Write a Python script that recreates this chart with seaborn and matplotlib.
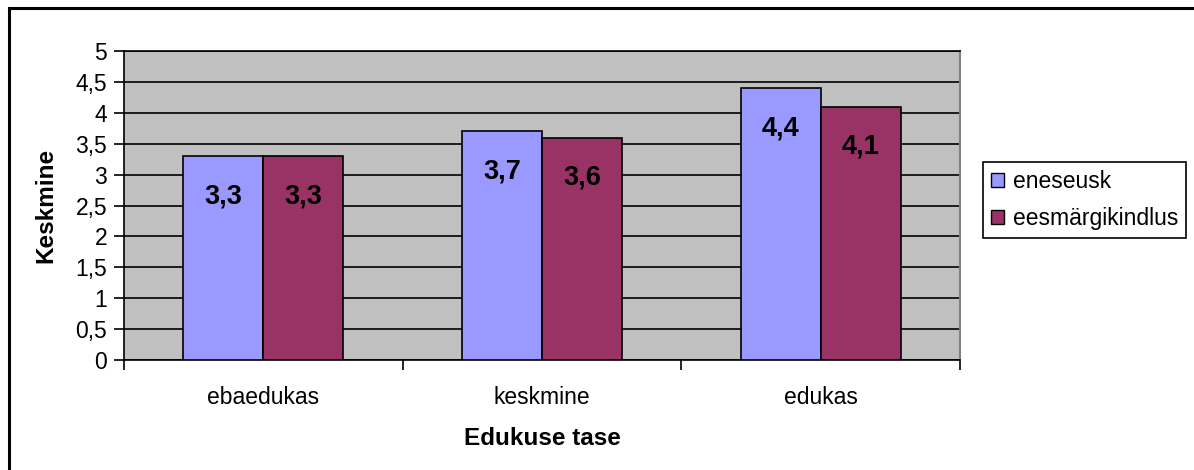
import matplotlib
matplotlib.use("Agg")
import matplotlib.pyplot as plt
from matplotlib.patches import Rectangle
import seaborn as sns
import pandas as pd

# Data
categories = ["ebaedukas", "keskmine", "edukas"]
series_names = ["eneseusk", "eesmärgikindlus"]
eneseusk = [3.3, 3.7, 4.4]
eesmargikindlus = [3.3, 3.6, 4.1]
y_ticks = [0, 0.5, 1, 1.5, 2, 2.5, 3, 3.5, 4, 4.5, 5]

df = pd.DataFrame({
    "tase": categories * 2,
    "seeria": [series_names[0]] * 3 + [series_names[1]] * 3,
    "keskmine": eneseusk + eesmargikindlus,
})

sns.set_theme(style="white")
plt.rcParams["font.family"] = ["Liberation Sans", "DejaVu Sans"]
plt.rcParams.update({"text.color": "black", "axes.labelcolor": "black",
                     "xtick.color": "black", "ytick.color": "black"})

W, H = 1194, 470
fig = plt.figure(figsize=(W / 100, H / 100), dpi=100)
ax = fig.add_axes([124 / W, 1 - 360 / H, (960 - 124) / W, (360 - 51) / H])

palette = ["#9999FF", "#993366"]
sns.barplot(data=df, x="tase", y="keskmine", hue="seeria", order=categories,
            hue_order=series_names, palette=palette, width=0.574,
            edgecolor="black", linewidth=1.2, errorbar=None, saturation=1,
            ax=ax, zorder=3)

ax.set_facecolor("#C0C0C0")
ax.set_ylim(0, 5)
ax.set_xlim(-0.5, 2.5)
ax.set_yticks(y_ticks)
ax.set_yticklabels([f"{v:g}".replace(".", ",") for v in y_ticks], fontsize=16.5)
ax.yaxis.grid(True, color="black", linewidth=1.2, zorder=1)
ax.xaxis.grid(False)
ax.set_axisbelow(True)

# Category tick marks at the group boundaries, labels at the centres
ax.set_xticks([-0.5, 0.5, 1.5, 2.5])
ax.set_xticklabels([])
ax.set_xticks([0, 1, 2], minor=True)
ax.set_xticklabels(categories, minor=True, fontsize=16.5)
ax.tick_params(axis="x", which="major", direction="out", length=7, width=1.2,
               color="black", bottom=True)
ax.tick_params(axis="x", which="minor", length=0, pad=19)
ax.tick_params(axis="y", direction="out", length=7, width=1.2, color="black",
               left=True, pad=5)

for side in ["left", "bottom", "top"]:
    ax.spines[side].set_color("black")
    ax.spines[side].set_linewidth(1.2)
ax.spines["right"].set_color("#808080")
ax.spines["right"].set_linewidth(1.5)

ax.set_xlabel("Edukuse tase", fontsize=17.5, fontweight="bold", labelpad=13)
ax.set_ylabel("Keskmine", fontsize=17.5, fontweight="bold", labelpad=13)

# Value labels inside the top end of each bar
for container in ax.containers:
    for bar in container:
        val = bar.get_height()
        ax.annotate(f"{val:.1f}".replace(".", ","),
                    (bar.get_x() + bar.get_width() / 2, val),
                    xytext=(0, -29), textcoords="offset points",
                    ha="center", va="center", fontsize=19.5, fontweight="bold",
                    color="black", zorder=5)

# Legend with square swatches
handles, labels = ax.get_legend_handles_labels()
if ax.get_legend() is not None:
    ax.get_legend().remove()
leg = fig.legend(handles, labels, loc="upper left",
                 bbox_to_anchor=(983 / W, 1 - 162 / H), borderaxespad=0,
                 fontsize=16.5, frameon=True, fancybox=False, framealpha=1,
                 edgecolor="black", handlelength=0.55, handleheight=0.55,
                 handletextpad=0.4, labelspacing=0.6, borderpad=0.35)
leg.get_frame().set_linewidth(1.2)
for h in leg.legend_handles:
    h.set_edgecolor("black")
    h.set_linewidth(1.0)

# Outer chart frame
fig.patches.append(Rectangle((9 / W, -0.2), 1.2, 1.2 - 8 / H,
                             transform=fig.transFigure, fill=False,
                             edgecolor="black", linewidth=2.2, zorder=10))

fig.savefig("out.png", dpi=100)
